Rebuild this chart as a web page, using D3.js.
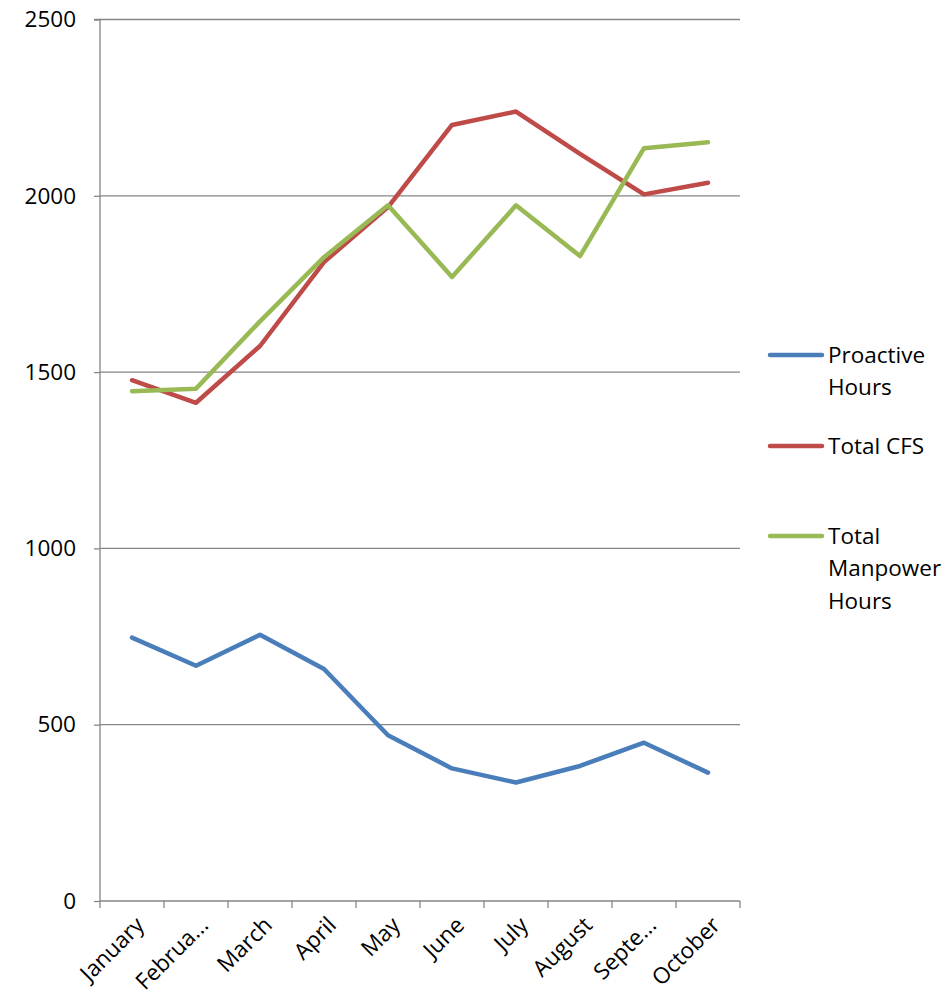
<!DOCTYPE html>
<html>
<head>
<meta charset="utf-8">
<script src="https://cdn.jsdelivr.net/npm/d3@7"></script>
<style>
  body { margin: 0; background: #fff; }
  svg { display: block; font-family: "Open Sans", "Liberation Sans", sans-serif; }
</style>
</head>
<body>
<svg id="chart" width="952" height="1002"></svg>
<script>
// Monthly figures
const months = ["January", "Februa...", "March", "April", "May", "June", "July", "August", "Septe...", "October"];
const proactiveHours = [747, 667, 755, 658, 470, 376, 336, 383, 449, 364];
const totalCFS = [1477, 1413, 1574, 1812, 1968, 2201, 2239, 2119, 2004, 2037];
const totalManpowerHours = [1446, 1453, 1644, 1826, 1973, 1770, 1973, 1829, 2135, 2152];
const yTicks = [0, 500, 1000, 1500, 2000, 2500];

const series = [
  { name: ["Proactive", "Hours"], values: proactiveHours, color: "#4a7ebb" },
  { name: ["Total CFS"], values: totalCFS, color: "#be4b48" },
  { name: ["Total", "Manpower", "Hours"], values: totalManpowerHours, color: "#98b954" }
];

const fontSize = 22.5;
const svg = d3.select("#chart");
const plotLeft = 100, plotRight = 740, plotTop = 19.5, plotBottom = 901;

const x = d3.scaleBand().domain(months).range([plotLeft, plotRight]);
const y = d3.scaleLinear().domain([0, 2500]).range([plotBottom, plotTop]);

// Gridlines
svg.append("g").selectAll("line").data(yTicks.filter(d => d > 0)).join("line")
  .attr("x1", plotLeft).attr("x2", plotRight)
  .attr("y1", d => y(d)).attr("y2", d => y(d))
  .attr("stroke", "#868686").attr("stroke-width", 1.3);

// Y axis
const yAxis = svg.append("g").attr("transform", `translate(${plotLeft},0)`)
  .call(d3.axisLeft(y).tickValues(yTicks).tickSize(6).tickPadding(18).tickFormat(d3.format("d")));
yAxis.select(".domain").attr("stroke", "#868686").attr("stroke-width", 1.3).attr("d", `M-6,${y(2500)}H0V${y(0)}`);
yAxis.selectAll(".tick line").attr("stroke", "#868686").attr("stroke-width", 1.3);
yAxis.selectAll(".tick text").attr("font-size", fontSize).attr("fill", "#000")
  .attr("font-family", "'Open Sans', sans-serif");

// X axis baseline with ticks at band boundaries
const xg = svg.append("g");
xg.append("line").attr("x1", plotLeft).attr("x2", plotRight).attr("y1", plotBottom).attr("y2", plotBottom)
  .attr("stroke", "#868686").attr("stroke-width", 1.3);
const bounds = months.map(m => x(m)).concat([plotRight]);
xg.selectAll("line.tk").data(bounds).join("line").attr("class", "tk")
  .attr("x1", d => d).attr("x2", d => d).attr("y1", plotBottom).attr("y2", plotBottom + 7)
  .attr("stroke", "#868686").attr("stroke-width", 1.3);
xg.selectAll("text").data(months).join("text")
  .attr("transform", d => `translate(${x(d) + x.bandwidth() / 2 + 8},${plotBottom + 20}) rotate(-45)`)
  .attr("text-anchor", "end").attr("dy", "0.35em")
  .attr("font-size", fontSize).attr("fill", "#000")
  .text(d => d);

// Lines
const line = d3.line().x((d, i) => x(months[i]) + x.bandwidth() / 2).y(d => y(d));
svg.append("g").selectAll("path").data(series).join("path")
  .attr("d", s => line(s.values))
  .attr("fill", "none").attr("stroke", s => s.color)
  .attr("stroke-width", 4.5).attr("stroke-linejoin", "round").attr("stroke-linecap", "round");

// Legend
const legendY = [355, 446, 536];
const lg = svg.append("g");
series.forEach((s, i) => {
  const g = lg.append("g").attr("transform", `translate(0,${legendY[i]})`);
  g.append("line").attr("x1", 770).attr("x2", 822).attr("y1", 0).attr("y2", 0)
    .attr("stroke", s.color).attr("stroke-width", 4.5).attr("stroke-linecap", "round");
  g.append("text").attr("x", 828).attr("font-size", fontSize).attr("fill", "#000")
    .selectAll("tspan").data(s.name).join("tspan")
    .attr("x", 828).attr("y", (d, j) => j * 32.5).attr("dy", "0.35em").text(d => d);
});
</script>
</body>
</html>
